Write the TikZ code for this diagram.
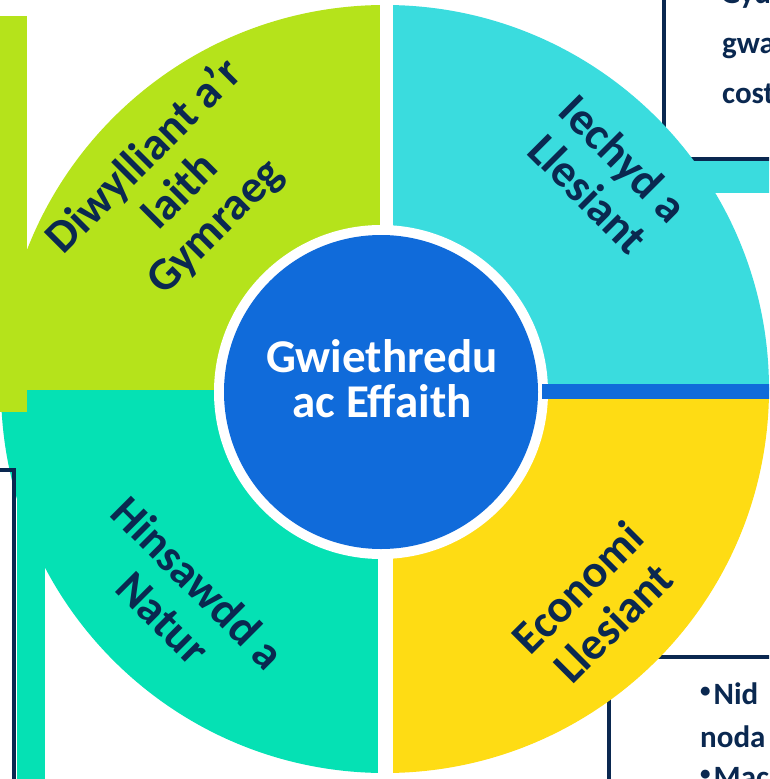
\documentclass[tikz,border=0pt]{standalone}
\usepackage{fontspec}
\setmainfont{Carlito}
\definecolor{limeq}{HTML}{B5E31B}
\definecolor{cyanq}{HTML}{3ADCDE}
\definecolor{tealq}{HTML}{05E1B4}
\definecolor{yelq}{HTML}{FEDC14}
\definecolor{blueq}{HTML}{106BDA}
\definecolor{navy}{HTML}{0A2850}
\newcommand{\mybul}{\raisebox{7pt}{\fontsize{21}{21}\selectfont •}\hspace{3pt}}
\begin{document}
\begin{tikzpicture}[x=1pt,y=-1pt,
  lbl/.style={text=navy,font=\bfseries\fontsize{46}{50}\selectfont,align=center,inner sep=0pt},
  ctrtxt/.style={text=white,font=\bfseries\fontsize{47}{45}\selectfont,align=center,inner sep=0pt},
  boxtxt/.style={text=navy,font=\bfseries\fontsize{31}{31}\selectfont,anchor=base west,inner sep=0pt},
  boxline/.style={draw=navy,line width=4pt,fill=white}]
\useasboundingbox (0,0) rectangle (769,779);
\clip (0,0) rectangle (769,779);
% boxes behind the wheel
\draw[boxline] (664,-20) rectangle (790,159);
\draw[boxline] (609,657) rectangle (790,800);
\node[boxtxt] (t1) at (707,3) {\mybul Gyd};
\node[boxtxt] (t2) at (722,53) {gwa};
\node[boxtxt] (t3) at (722,103) {cost};
\node[boxtxt] (b1) at (700,704) {\mybul Nid};
\node[boxtxt] (b2) at (700,747) {noda};
\node[boxtxt] (b3) at (700,787) {\mybul Mac};
% cyan connector bar
\fill[cyanq] (600,161) rectangle (775,193);
% wheel quadrants
\begin{scope}
  \clip (385,389) circle[radius=384pt];
  \fill[limeq] (-10,-10) rectangle (386,390);
  \fill[cyanq] (386,-10) rectangle (780,390);
  \fill[tealq] (-10,390) rectangle (386,790);
  \fill[yelq] (386,390) rectangle (780,790);
\end{scope}
% side bars
\fill[limeq] (0,16) rectangle (27,412);
\fill[tealq] (17,412) rectangle (45,790);
\draw[navy,line width=4pt] (-5,470) -- (14,470) -- (14,790);
% separators
\fill[white] (379.5,-10) rectangle (393,240);
\fill[white] (377.5,550) rectangle (393,790);
\fill[white] (381,392) circle[radius=167pt];
\fill[blueq] (542,384) rectangle (775,399);
\node[circle,fill=blueq,minimum size=314pt,inner sep=0pt] (hub) at (381,392) {};
% labels
\node[ctrtxt] (ctr) at (382,379) {Gwiethredu\\ac Effaith};
\node[lbl,rotate=45] (cul) at (180,192) {Diwylliant a’r\\Iaith\\Gymraeg};
\node[lbl,rotate=-45] (hea) at (606,176) {Iechyd a\\Llesiant};
\node[lbl,rotate=-45] (cli) at (181,600) {Hinsawdd a\\Natur};
\node[lbl,rotate=45] (eco) at (595,605) {Economi\\Llesiant};
\end{tikzpicture}
\end{document}
